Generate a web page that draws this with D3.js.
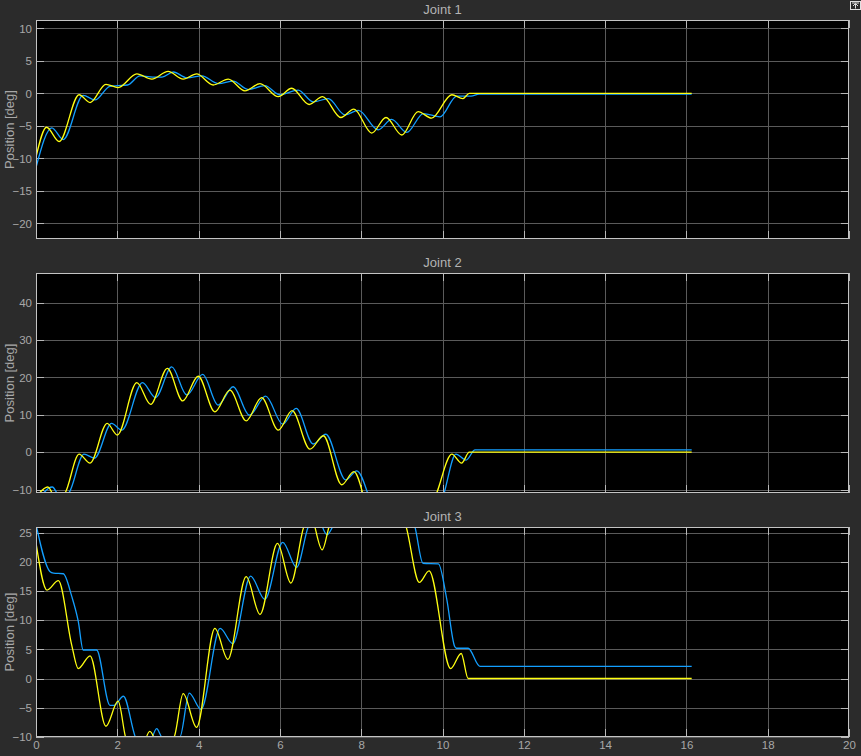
<!DOCTYPE html>
<html>
<head>
<meta charset="utf-8">
<script src="https://cdn.jsdelivr.net/npm/d3@7"></script>
<style>
  body { margin: 0; background: #2b2b2b; }
  text { font-family: "Liberation Sans", Arial, sans-serif; }
</style>
</head>
<body>
<div id="chart"></div>
<script>
const width = 861;
const height = 756;

// x ticks (time, s)
const xTicks = [0, 2, 4, 6, 8, 10, 12, 14, 16, 18, 20];

// Joint 1
const j1YellowT = [0, 0.26, 0.57, 1.06, 1.33, 1.72, 2.02, 2.48, 2.85, 3.25, 3.62, 3.95, 4.36, 4.73, 5.14, 5.51, 5.96, 6.29, 6.72, 7.05, 7.5, 7.82, 8.26, 8.61, 9.0, 9.4, 9.73, 10.23, 10.5, 10.66, 16.13];
const j1YellowV = [-9.8, -5.2, -7.4, -0.2, -1.4, 1.4, 0.9, 3.0, 2.2, 3.4, 2.2, 3.0, 1.3, 2.2, 0.4, 1.5, -0.5, 0.8, -1.7, -0.5, -3.7, -2.4, -6.1, -3.7, -6.4, -2.8, -3.8, -0.2, -0.8, 0, 0];
const j1BlueT = [0, 0.39, 0.67, 1.16, 1.45, 1.82, 2.02, 2.25, 2.56, 2.95, 3.1, 3.38, 3.71, 4.08, 4.49, 4.85, 5.22, 5.63, 6.0, 6.45, 6.82, 7.19, 7.6, 7.93, 8.42, 8.75, 9.12, 9.53, 9.94, 10.35, 10.7, 10.9, 16.13];
const j1BlueV = [-11.4, -5.3, -7.1, -0.3, -1.0, 1.1, 1.2, 1.3, 2.7, 2.5, 2.5, 3.3, 2.4, 2.7, 1.5, 1.9, 0.6, 1.2, -0.2, 0.5, -1.3, -0.8, -3.3, -2.6, -5.6, -4.0, -6.0, -3.1, -3.6, -0.4, -0.4, -0.1, -0.1];
const j1Ticks = [-20, -15, -10, -5, 0, 5, 10];

// Joint 2
const j2YellowT = [0, 0.29, 0.5, 0.71, 1.06, 1.33, 1.75, 2.0, 2.48, 2.82, 3.23, 3.61, 3.99, 4.4, 4.77, 5.17, 5.55, 5.96, 6.3, 6.74, 7.07, 7.52, 7.82, 8.26, 8.61, 9.0, 9.4, 9.73, 10.23, 10.47, 10.66, 16.13];
const j2YellowV = [-12, -9.3, -12.5, -11, -0.5, -2.9, 7.7, 4.6, 18.6, 12.8, 22.4, 13.7, 20.3, 10.8, 16.6, 8.4, 14.6, 5.9, 11.1, 0.8, 4.4, -8.7, -5.2, -17, -13, -18, -10.8, -13, -0.5, -2.9, 0, 0];
const j2BlueT = [0, 0.4, 0.6, 0.8, 1.18, 1.44, 1.86, 2.11, 2.62, 2.94, 3.34, 3.71, 4.1, 4.48, 4.85, 5.25, 5.65, 6.07, 6.4, 6.82, 7.13, 7.62, 7.89, 8.4, 8.75, 9.12, 9.53, 9.94, 10.33, 10.58, 10.8, 16.13];
const j2BlueV = [-14, -9.3, -12, -11, -0.5, -1.6, 7.7, 5.9, 18.6, 14.6, 22.8, 15.3, 20.8, 12.6, 17.5, 9.9, 15.0, 7.5, 11.7, 2.2, 4.8, -7.4, -5.0, -16, -13.5, -17, -11.5, -13, -0.5, -2.1, 0.6, 0.6];
const j2Ticks = [-10, 0, 10, 20, 30, 40];

// Joint 3
const j3YellowT = [0, 0.27, 0.55, 0.88, 1.04, 1.33, 1.72, 2.02, 2.2, 2.5, 2.8, 3.05, 3.4, 3.62, 3.95, 4.4, 4.72, 5.17, 5.51, 5.94, 6.27, 6.59, 6.75, 7.04, 7.21, 7.45, 7.8, 8.2, 8.61, 8.85, 9.1, 9.43, 9.67, 10.2, 10.46, 10.63, 16.13];
const j3YellowV = [23.3, 15.2, 16.8, 5.7, 1.7, 3.9, -8.2, -3.9, -10, -14, -9.1, -12, -10, -2.6, -8.4, 8.6, 3.3, 17.5, 11.0, 23.2, 16.4, 26.1, 28, 22.1, 26.1, 31, 28, 33, 26.1, 30, 26.2, 16.5, 18.5, 1.7, 4.3, 0, 0];
const j3BlueT = [0, 0.34, 0.43, 0.67, 0.88, 1.04, 1.16, 1.49, 1.82, 1.92, 2.15, 2.44, 2.7, 2.97, 3.1, 3.54, 3.77, 4.06, 4.53, 4.84, 5.28, 5.63, 6.07, 6.41, 6.7, 6.9, 7.16, 7.3, 7.6, 8.0, 8.5, 9.0, 9.32, 9.52, 9.9, 10.1, 10.3, 10.34, 10.63, 10.92, 16.13];
const j3BlueV = [26.5, 18.4, 18.1, 18.0, 14.1, 9.8, 4.9, 4.9, -4.6, -4.6, -3.05, -10, -13, -8.6, -10, -10, -2.5, -5.3, 8.6, 6.0, 17.6, 13.6, 23.4, 19.1, 26.1, 28, 24.7, 26.1, 31, 29, 33, 30, 26.1, 19.8, 19.7, 13.8, 5.5, 5.2, 5.2, 2.1, 2.1];
const j3Ticks = [-10, -5, 0, 5, 10, 15, 20, 25];

const colors = { yellow: "#ffff11", blue: "#139fff" };

const panels = [
  { title: "Joint 1", top: 20, bottom: 239, domain: [-22.4, 11.3], ticks: j1Ticks,
    series: [[j1BlueT, j1BlueV, colors.blue], [j1YellowT, j1YellowV, colors.yellow]] },
  { title: "Joint 2", top: 273, bottom: 493, domain: [-10.9, 47.9], ticks: j2Ticks,
    series: [[j2BlueT, j2BlueV, colors.blue], [j2YellowT, j2YellowV, colors.yellow]] },
  { title: "Joint 3", top: 527, bottom: 737, domain: [-10.05, 26.03], ticks: j3Ticks,
    series: [[j3BlueT, j3BlueV, colors.blue], [j3YellowT, j3YellowV, colors.yellow]] }
];

const left = 36, right = 849;
const tickLen = 8;

const svg = d3.select("#chart")
  .append("svg")
  .attr("width", width)
  .attr("height", height);

svg.append("rect")
  .attr("width", width)
  .attr("height", height)
  .attr("fill", "#2b2b2b");

const x = d3.scaleLinear().domain([0, 20]).range([left, right]);

panels.forEach((p, i) => {
  const y = d3.scaleLinear().domain(p.domain).range([p.bottom, p.top]);
  const h = p.bottom - p.top;

  svg.append("rect")
    .attr("x", left).attr("y", p.top)
    .attr("width", right - left).attr("height", h)
    .attr("fill", "#000");

  // grid
  const grid = svg.append("g").attr("class", "grid");
  grid.selectAll("line.gx")
    .data(xTicks.slice(1, -1))
    .enter().append("line")
    .attr("x1", d => Math.round(x(d)) + 0.5).attr("x2", d => Math.round(x(d)) + 0.5)
    .attr("y1", p.top).attr("y2", p.bottom)
    .attr("stroke", "#5a5a5a").attr("stroke-width", 1);
  grid.selectAll("line.gy")
    .data(p.ticks)
    .enter().append("line")
    .attr("x1", left).attr("x2", right)
    .attr("y1", d => Math.round(y(d)) + 0.5).attr("y2", d => Math.round(y(d)) + 0.5)
    .attr("stroke", "#5a5a5a").attr("stroke-width", 1);

  // inner tick marks
  const tk = svg.append("g").attr("stroke", "#b8b8b8").attr("stroke-width", 1);
  p.ticks.forEach(d => {
    const yy = Math.round(y(d)) + 0.5;
    tk.append("line").attr("x1", left).attr("x2", left + tickLen).attr("y1", yy).attr("y2", yy);
    tk.append("line").attr("x1", right - tickLen).attr("x2", right).attr("y1", yy).attr("y2", yy);
  });
  xTicks.forEach(d => {
    const xx = Math.round(x(d)) + 0.5;
    tk.append("line").attr("x1", xx).attr("x2", xx).attr("y1", p.bottom - tickLen).attr("y2", p.bottom);
    tk.append("line").attr("x1", xx).attr("x2", xx).attr("y1", p.top).attr("y2", p.top + tickLen);
  });

  // lines
  const clipId = "clip" + i;
  svg.append("clipPath").attr("id", clipId)
    .append("rect")
    .attr("x", left).attr("y", p.top)
    .attr("width", right - left).attr("height", h);

  const line = d3.line()
    .x(d => x(d[0]))
    .y(d => y(d[1]))
    .curve(d3.curveMonotoneX);

  p.series.forEach(([ts, vs, c]) => {
    svg.append("path")
      .datum(ts.map((t, k) => [t, vs[k]]))
      .attr("clip-path", `url(#${clipId})`)
      .attr("fill", "none")
      .attr("stroke", c)
      .attr("stroke-width", 1.3)
      .attr("d", line);
  });

  // frame
  svg.append("rect")
    .attr("x", left + 0.5).attr("y", p.top + 0.5)
    .attr("width", right - left - 1).attr("height", h - 1)
    .attr("fill", "none").attr("stroke", "#c4c4c4").attr("stroke-width", 1);

  // y axis labels
  const yAxis = svg.append("g")
    .attr("transform", `translate(${left},0)`)
    .call(d3.axisLeft(y).tickValues(p.ticks).tickSize(0).tickPadding(4));
  yAxis.select(".domain").remove();
  yAxis.selectAll("text")
    .attr("fill", "#a8a8a8")
    .attr("font-size", 11.5)
    .attr("font-family", "Liberation Sans, Arial, sans-serif");

  // y label
  svg.append("text")
    .attr("transform", `translate(14,${(p.top + p.bottom) / 2}) rotate(-90)`)
    .attr("text-anchor", "middle")
    .attr("fill", "#a8a8a8")
    .attr("font-size", 13)
    .text("Position [deg]");

  // title
  svg.append("text")
    .attr("x", (left + right) / 2)
    .attr("y", p.top - 6)
    .attr("text-anchor", "middle")
    .attr("fill", "#b4b4b4")
    .attr("font-size", 13)
    .text(p.title);

  // x tick labels on the bottom panel
  if (i === panels.length - 1) {
    const xAxis = svg.append("g")
      .attr("transform", `translate(0,${p.bottom})`)
      .call(d3.axisBottom(x).tickValues(xTicks).tickSize(0).tickPadding(4));
    xAxis.select(".domain").remove();
    xAxis.selectAll("text")
      .attr("fill", "#a8a8a8")
      .attr("font-size", 11.5)
      .attr("font-family", "Liberation Sans, Arial, sans-serif");
  }
});

// undock icon, top right
const icon = svg.append("g").attr("transform", "translate(850,1)");
icon.append("rect").attr("x", 0.5).attr("y", 0.5).attr("width", 10).attr("height", 8)
  .attr("fill", "none").attr("stroke", "#e0e0e0");
icon.append("path").attr("d", "M5.5,7.5 V3 M3,5 L5.5,2.5 L8,5 M2,2 H9")
  .attr("fill", "none").attr("stroke", "#e0e0e0");
</script>
</body>
</html>
